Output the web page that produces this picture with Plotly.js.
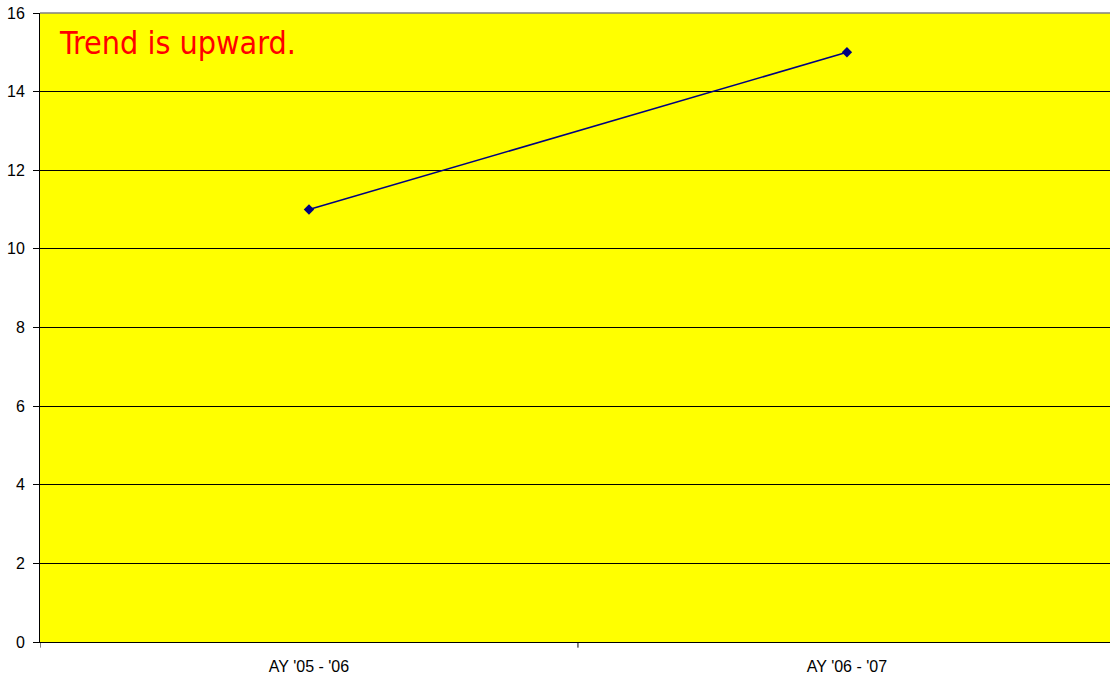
<!DOCTYPE html>
<html>
<head>
<meta charset="utf-8">
<script src="https://cdn.plot.ly/plotly-3.0.1.min.js"></script>
<style>
  html, body { margin: 0; padding: 0; background: #ffffff; }
  #chart { width: 1110px; height: 679px; }
</style>
</head>
<body>
<div id="chart"></div>
<script>
// Academic years and their counts
const categories = ["AY '05 - '06", "AY '06 - '07"];
const values = [11, 15];
const yTicks = [0, 2, 4, 6, 8, 10, 12, 14, 16];

const trace = {
  type: 'scatter',
  mode: 'lines+markers',
  x: [0, 1],
  y: values,
  line: { color: '#000080', width: 1.5 },
  marker: { symbol: 'diamond', size: 8, color: '#000080' },
  hoverinfo: 'skip',
  showlegend: false
};

const layout = {
  width: 1110,
  height: 679,
  margin: { l: 40, r: 0, t: 13, b: 37 },
  paper_bgcolor: '#ffffff',
  plot_bgcolor: '#ffff00',
  font: { family: 'Liberation Sans, Arial, sans-serif', size: 16, color: '#000000' },
  xaxis: {
    range: [-0.5, 1.489],
    tickmode: 'array',
    tickvals: [0, 1],
    ticktext: categories,
    showgrid: false,
    zeroline: false,
    showline: true,
    linecolor: '#000000',
    linewidth: 1,
    ticks: '',
    ticklabelstandoff: 10,
    fixedrange: true
  },
  yaxis: {
    range: [0, 16],
    tickmode: 'array',
    tickvals: yTicks,
    ticktext: yTicks.map(String),
    showgrid: true,
    gridcolor: '#000000',
    gridwidth: 1,
    zeroline: false,
    showline: true,
    linecolor: '#000000',
    linewidth: 1,
    ticks: 'outside',
    ticklen: 6,
    tickcolor: '#000000',
    ticklabelstandoff: 5,
    fixedrange: true
  },
  shapes: [
    // category boundary ticks below the x axis
    { type: 'line', xref: 'x', yref: 'paper', x0: -0.5, x1: -0.5, y0: 0, y1: -0.009, line: { color: '#000000', width: 1 } },
    { type: 'line', xref: 'x', yref: 'paper', x0: 0.5, x1: 0.5, y0: 0, y1: -0.009, line: { color: '#000000', width: 1 } },
    // plot area border along the top
    { type: 'line', xref: 'paper', yref: 'paper', x0: 0, x1: 1, y0: 1, y1: 1, line: { color: '#808080', width: 1.5 } }
  ],
  annotations: [{
    xref: 'paper', yref: 'paper',
    x: 0.0155, y: 0.985,
    xanchor: 'left', yanchor: 'top',
    text: 'Trend is upward.',
    showarrow: false,
    font: { family: 'DejaVu Sans Condensed, DejaVu Sans, sans-serif', size: 32, color: '#ff0000' }
  }]
};

Plotly.newPlot('chart', [trace], layout, { displayModeBar: false, staticPlot: true });
</script>
</body>
</html>
